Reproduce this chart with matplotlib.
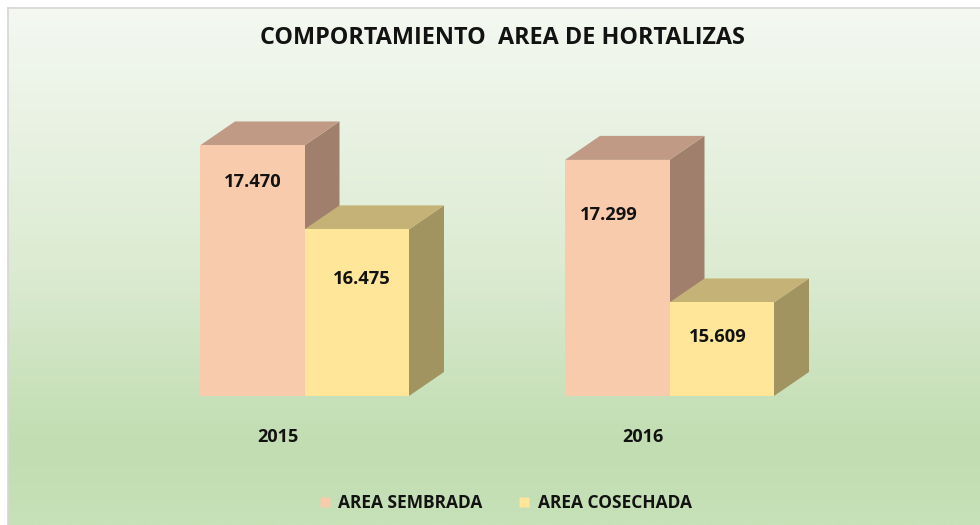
import numpy as np
import matplotlib
matplotlib.use("Agg")
import matplotlib.pyplot as plt
from matplotlib.patches import Polygon
from matplotlib.colors import LinearSegmentedColormap
from matplotlib.lines import Line2D

# ---------------- data ----------------
years = ["2015", "2016"]
series_names = ["AREA SEMBRADA", "AREA COSECHADA"]
area_sembrada = [17470, 17299]
area_cosechada = [16475, 15609]
value_labels_sembrada = ["17.470", "17.299"]
value_labels_cosechada = ["16.475", "15.609"]
title = "COMPORTAMIENTO  AREA DE HORTALIZAS"

# ---------------- style ----------------
plt.rcParams["font.family"] = ["Open Sans", "DejaVu Sans"]
W, H = 980, 525
Y_MIN, Y_MAX = 14500, 18000
front_cols = ["#F8CBAD", "#FFE699"]
top_cols = ["#C09A85", "#C5B276"]
side_cols = ["#A0806D", "#A29461"]
text_col = "#121212"

fig = plt.figure(figsize=(W / 100, H / 100), dpi=100)
fig.patch.set_facecolor("white")

# background panel with gradient
bg = fig.add_axes([8 / W, 0, 1 - 8 / W, 1 - 8 / H])
grad = np.linspace(0, 1, 512).reshape(-1, 1)
cmap = LinearSegmentedColormap.from_list(
    "g", [(0.0, "#F4F8F1"), (0.5, "#DCEBD2"), (0.85, "#C1DDB1"), (1.0, "#C7E1B8")])
bg.imshow(grad, aspect="auto", cmap=cmap, extent=[0, 1, 0, 1], interpolation="bilinear")
bg.set_xlim(0, 1); bg.set_ylim(0, 1)
bg.set_xticks([]); bg.set_yticks([])
for s in ["right", "bottom"]:
    bg.spines[s].set_visible(False)
for s in ["top", "left"]:
    bg.spines[s].set_color("#D6D6D6")
    bg.spines[s].set_linewidth(1.2)

# main axes
ax_bottom_px = 396
ax_height_px = (Y_MAX - Y_MIN) * 0.08436
ax = fig.add_axes([0, (H - ax_bottom_px) / H, 1, ax_height_px / H])
ax.patch.set_alpha(0)
ax.set_xlim(-304.5 / 365, (980 - 304.5) / 365)
ax.set_ylim(Y_MIN, Y_MAX)
ax.set_axis_off()

x = np.arange(len(years))
bw = 104.5 / 365

# convert pixel depth to data units
inv = ax.transData.inverted()
p0 = inv.transform((0, 0))
p1 = inv.transform((35, 24))
ddx, ddy = p1[0] - p0[0], p1[1] - p0[1]

series = [area_sembrada, area_cosechada]
z = 2
for gi in range(len(years)):
    for si, vals in enumerate(series):
        x0 = x[gi] - bw + si * bw
        x1 = x0 + bw
        h = vals[gi]
        side = Polygon([(x1, Y_MIN), (x1, h), (x1 + ddx, h + ddy), (x1 + ddx, Y_MIN + ddy)],
                       closed=True, facecolor=side_cols[si], edgecolor="none", zorder=z)
        top = Polygon([(x0, h), (x1, h), (x1 + ddx, h + ddy), (x0 + ddx, h + ddy)],
                      closed=True, facecolor=top_cols[si], edgecolor="none", zorder=z + 1)
        ax.add_patch(side)
        ax.add_patch(top)
        ax.bar(x0, h - Y_MIN, bottom=Y_MIN, width=bw, align="edge",
               color=front_cols[si], edgecolor="none", zorder=z + 2)
        z += 3

# value labels (offsets in pixels from top-center of the front face)
label_offsets = {(0, 0): (1, -37), (0, 1): (5, -50), (1, 0): (-8, -55), (1, 1): (-4, -35)}
labels = [value_labels_sembrada, value_labels_cosechada]
for gi in range(len(years)):
    for si, vals in enumerate(series):
        xc = x[gi] - bw / 2 + si * bw
        ox, oy = label_offsets[(gi, si)]
        ax.annotate(labels[si][gi], xy=(xc, vals[gi]), xytext=(ox, oy),
                    textcoords="offset pixels", ha="center", va="center",
                    fontsize=13.2, fontweight="bold", color=text_col, zorder=50)

# category labels
for gi, yr in enumerate(years):
    ax.annotate(yr, xy=(x[gi], Y_MIN), xytext=(-27, -41), textcoords="offset pixels",
                ha="center", va="center", fontsize=13, fontweight="bold",
                color=text_col, annotation_clip=False)

# title
fig.text(502 / W, 1 - 38 / H, title, ha="center", va="center",
         fontsize=16.8, fontweight="bold", color=text_col)

# legend
handles = [Line2D([], [], marker="s", linestyle="none", markersize=7.5,
                  markerfacecolor=c, markeredgecolor="none") for c in front_cols]
leg = fig.legend(handles, series_names, loc="center", ncol=2, frameon=False,
                 bbox_to_anchor=(505 / W, 1 - 503 / H), handletextpad=0.35,
                 columnspacing=2.0, handlelength=0.8,
                 prop={"weight": "bold", "size": 12.5})
for t in leg.get_texts():
    t.set_color(text_col)

fig.savefig("out.png", dpi=100, facecolor=fig.get_facecolor())
